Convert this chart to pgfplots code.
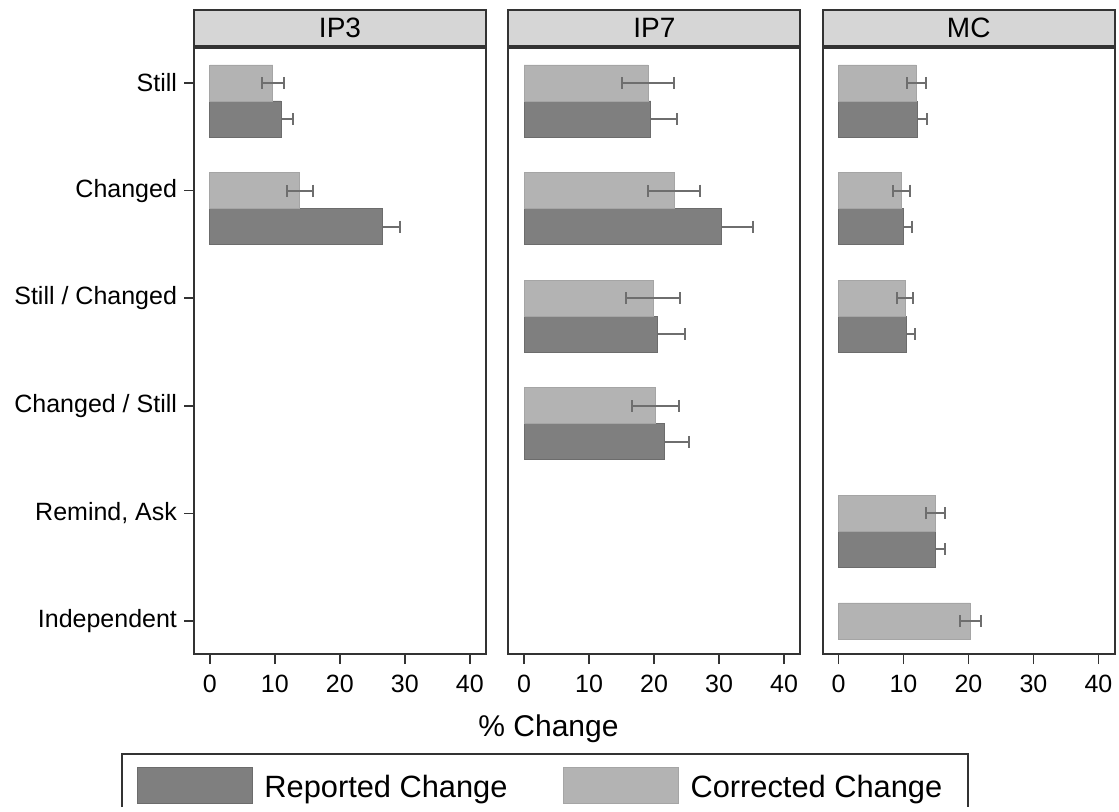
\documentclass[border=0pt]{standalone}
\usepackage{fontspec}
\setmainfont{Liberation Sans}
\usepackage{pgfplots}
\pgfplotsset{compat=1.18}
\definecolor{darkbar}{HTML}{7F7F7F}
\definecolor{lightbar}{HTML}{B3B3B3}
\definecolor{errc}{HTML}{6E6E6E}
\definecolor{hdr}{HTML}{D6D6D6}
\definecolor{frame}{HTML}{333333}

\pgfplotsset{
 panel/.style={
  scale only axis, width=146bp, height=303bp,
  xmin=-2.43, xmax=42.5, ymin=0.693, ymax=6.325,
  xtick={0,10,20,30,40},
  xtick pos=bottom, ytick pos=left,
  axis line style={frame, line width=1bp},
  tick style={frame, line width=0.8bp},
  tick align=outside, major tick length=5bp,
  /pgf/number format/assume math mode=true,
  ticklabel style={font=\fontsize{12.5bp}{15bp}\selectfont},
  xticklabel style={yshift=-2bp},
  xbar, bar width=0.335, bar shift=0pt,
  title style={at={(0.5,1)}, anchor=south, yshift=-5.25bp, fill=hdr, draw=frame, line width=1bp,
    minimum width=146bp, minimum height=18bp, inner sep=0pt, font=\fontsize{14bp}{16bp}\selectfont},
 },
 eb/.style={draw=none, fill=none, forget plot,
   error bars/.cd, x dir=both, x explicit,
   error bar style={errc, line width=1bp},
   error mark options={errc, line width=1bp, mark size=3bp, rotate=90}},
 rep/.style={fill=darkbar, draw=darkbar!85!black, line width=0.4bp},
 cor/.style={fill=lightbar, draw=lightbar!92!black, line width=0.4bp},
}

\begin{document}
\begin{tikzpicture}
\path (0,0) rectangle (559.5bp,-403.5bp);

% Panel IP3
\begin{axis}[panel, at={(97bp,-24bp)}, anchor=north west, title={IP3},
  ytick={1,2,3,4,5,6},
  yticklabels={Independent,{Remind, Ask},Changed / Still,Still / Changed,Changed,Still},
  legend columns=2,
  legend style={at={(-0.387,-0.1865)}, anchor=north west, draw=none, fill=none,
    inner sep=0pt, font=\fontsize{15.4bp}{18bp}\selectfont,
    nodes={inner sep=0pt}},
  legend image code/.code={
    \path[draw=none, fill=none] (-28bp,0) -- (63.5bp,0);
    \draw[#1] (0bp,-5bp) rectangle (57.5bp,13bp);},
]
\addplot[eb] coordinates {(10.95,5.665) +- (1.8,0) (26.6,4.665) +- (2.6,0)};
\addplot[rep] coordinates {(10.95,5.665) (26.6,4.665)};
\addplot[cor] coordinates {(9.7,6) (13.85,5)};
\addplot[eb] coordinates {(9.7,6) +- (1.7,0) (13.85,5) +- (2.0,0)};
\legend{\raisebox{5.5bp}{Reported Change}, \raisebox{5.5bp}{Corrected Change}}
\end{axis}

% Panel IP7
\begin{axis}[panel, at={(254.15bp,-24bp)}, anchor=north west, title={IP7}, ytick=\empty]
\addplot[eb] coordinates {(19.5,5.665) +- (4.1,0) (30.4,4.665) +- (4.8,0)
  (20.55,3.665) +- (4.2,0) (21.6,2.665) +- (3.7,0)};
\addplot[rep] coordinates {(19.5,5.665) (30.4,4.665) (20.55,3.665) (21.6,2.665)};
\addplot[cor] coordinates {(19.1,6) (23.05,5) (19.85,4) (20.2,3)};
\addplot[eb] coordinates {(19.1,6) +- (4.0,0) (23.05,5) +- (4.0,0)
  (19.85,4) +- (4.1,0) (20.2,3) +- (3.6,0)};
\end{axis}

% Panel MC
\begin{axis}[panel, at={(411.35bp,-24bp)}, anchor=north west, title={MC}, ytick=\empty]
\addplot[eb] coordinates {(12.1,5.665) +- (1.5,0) (10.0,4.665) +- (1.3,0)
  (10.5,3.665) +- (1.3,0) (14.9,1.665) +- (1.5,0)};
\addplot[rep] coordinates {(12.1,5.665) (10.0,4.665) (10.5,3.665) (14.9,1.665)};
\addplot[cor] coordinates {(12.0,6) (9.7,5) (10.25,4) (14.9,2) (20.3,1)};
\addplot[eb] coordinates {(12.0,6) +- (1.5,0) (9.7,5) +- (1.25,0)
  (10.25,4) +- (1.2,0) (14.9,2) +- (1.45,0) (20.3,1) +- (1.65,0)};
\end{axis}

\node[anchor=base, font=\fontsize{15bp}{18bp}\selectfont] at (274.25bp,-368.3bp) {\% Change};
\draw[frame, line width=1bp] (61bp,-403.5bp) |- (484bp,-377bp) -- (484bp,-403.5bp);
\end{tikzpicture}
\end{document}
